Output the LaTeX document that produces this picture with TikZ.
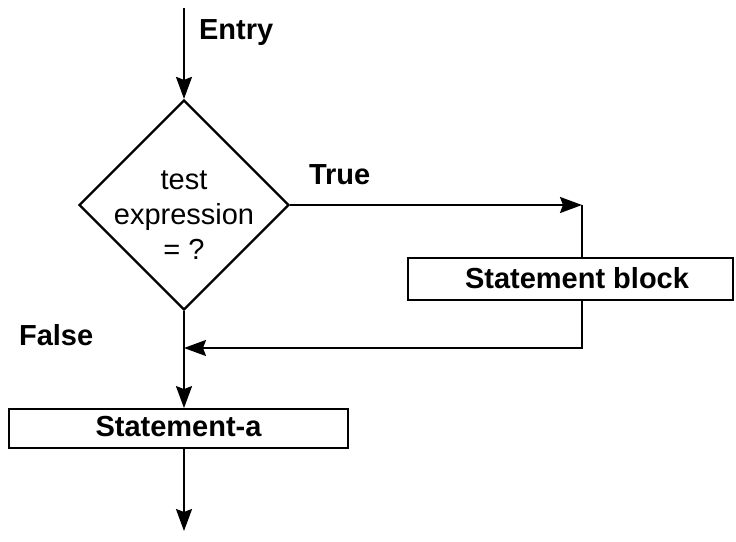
\documentclass[tikz,border=0pt]{standalone}
\usepackage{fontspec}
\setmainfont{Liberation Sans}
\usetikzlibrary{shapes.geometric,arrows.meta,calc}
\begin{document}
\begin{tikzpicture}[x=1pt,y=1pt,
  line width=2.1pt,
  arr/.style={-{Stealth[length=22pt,width=16pt,inset=3pt]}},
  lbl/.style={font=\fontsize{29}{35}\selectfont\bfseries, inner sep=0pt},
  boxnode/.style={draw, line width=1.8pt, inner sep=0pt, font=\fontsize{29}{35}\selectfont\bfseries},
  decision/.style={draw, diamond, line width=2.2pt, minimum width=210pt, minimum height=210pt, inner sep=0pt}
]
\useasboundingbox (0,0) rectangle (736,-541);
% decision
\node[decision] (d) at (184,-205) {};
\node[font=\fontsize{29}{35}\selectfont, align=center, inner sep=0pt] (dt) at (184,-215) {test\\expression\\= ?};
% boxes
\node[boxnode, minimum width=325pt, minimum height=42pt] (sb) at (570.5,-279) {};
\node[lbl] (sbt) at (577,-278) {Statement block};
\node[boxnode, minimum width=339pt, minimum height=39pt] (sa) at (178.5,-428.5) {};
\node[lbl] (sat) at (178.5,-427) {Statement-a};
% labels
\node[lbl, anchor=west] (entry) at (198,-33) {Entry};
\node[lbl, anchor=west] (true) at (308,-175) {True};
\node[lbl, anchor=west] (false) at (18,-335) {False};
% coordinates
\coordinate (top) at (184,-8);
\coordinate (c1) at (582,-205);
\coordinate (c2) at (582,-348);
\coordinate (join) at (184,-348);
\coordinate (exit) at (184,-531);
% connectors
\draw[arr] (top) -- (d.north);
\draw[arr] (d.east) -- (c1);
\draw (c1) -- (c1 |- sb.north);
\draw[arr] (c1 |- sb.south) -- (c2) -- (join);
\draw[arr] (d.south) -- (d.south |- sa.north);
\draw[arr] (d.south |- sa.south) -- (exit);
\end{tikzpicture}
\end{document}
